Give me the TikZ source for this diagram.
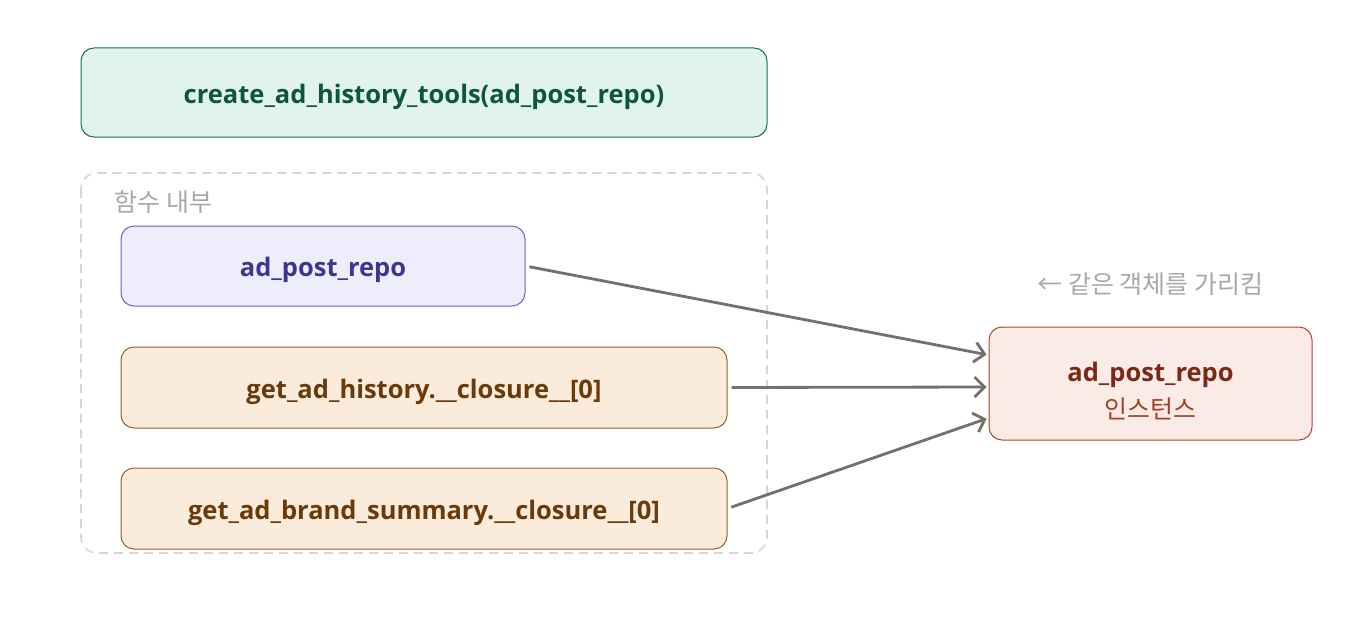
\documentclass[tikz,border=0pt]{standalone}
\usepackage{fontspec}
\setmainfont{Open Sans}
\newfontfamily\kr{Noto Sans CJK KR}
\usetikzlibrary{arrows.meta}
\definecolor{topfill}{HTML}{E0F3EC}
\definecolor{topdraw}{HTML}{1B6E4E}
\definecolor{toptext}{HTML}{0D5540}
\definecolor{purfill}{HTML}{EDEDFC}
\definecolor{purdraw}{HTML}{6A60CC}
\definecolor{purtext}{HTML}{3D3591}
\definecolor{orfill}{HTML}{FAEBDA}
\definecolor{ordraw}{HTML}{9A6225}
\definecolor{ortext}{HTML}{6B3A0A}
\definecolor{rfill}{HTML}{FAEBE6}
\definecolor{rdraw}{HTML}{A9462E}
\definecolor{rtext}{HTML}{7A2A14}
\definecolor{rtext2}{HTML}{A24026}
\definecolor{arr}{HTML}{727269}
\definecolor{dashc}{HTML}{D6D6D6}
\definecolor{lblgray}{HTML}{A8A8A8}
\begin{document}
\begin{tikzpicture}[x=1pt,y=-1pt,
  box/.style={draw, rounded corners=13pt, line width=1pt, inner sep=0pt, text height=21pt, text depth=0pt, font=\bfseries\fontsize{25.5}{30}\selectfont},
  conn/.style={draw=arr, line width=2.8pt, -{Straight Barb[length=10pt,width=20pt,line width=2.8pt]}}]
\useasboundingbox (0,0) rectangle (1372,626);
\draw[dashc, dashed, dash pattern=on 9pt off 6pt, line width=1.6pt, rounded corners=16pt] (81,173) rectangle (767,553);
\node[box, fill=topfill, draw=topdraw, text=toptext, minimum width=686pt, minimum height=89pt] (top) at (424,92.5) {create\_ad\_history\_tools(ad\_post\_repo)};
\node[anchor=west, text=lblgray, font=\kr\fontsize{25}{28}\selectfont] (lbl) at (111,202) {함수 내부};
\node[box, fill=purfill, draw=purdraw, text=purtext, minimum width=404pt, minimum height=80pt] (apr) at (323,266) {ad\_post\_repo};
\node[box, fill=orfill, draw=ordraw, text=ortext, minimum width=606pt, minimum height=81pt] (gah) at (424,387.5) {get\_ad\_history.\_\_closure\_\_[0]};
\node[box, fill=orfill, draw=ordraw, text=ortext, minimum width=606pt, minimum height=81pt] (gabs) at (424,508.5) {get\_ad\_brand\_summary.\_\_closure\_\_[0]};
\node[box, fill=rfill, draw=rdraw, minimum width=323pt, minimum height=113pt] (inst) at (1150.5,383.5) {};
\node[text=rtext, text height=21pt, text depth=0pt, font=\bfseries\fontsize{25.5}{30}\selectfont] (insta) at (1150.5,371) {ad\_post\_repo};
\node[text=rtext2, font=\kr\fontsize{25}{28}\selectfont] (instb) at (1150.5,409) {인스턴스};
\node[text=lblgray, font=\kr\fontsize{25}{28}\selectfont] (same) at (1150.5,284) {← 같은 객체를 가리킴};
\draw[conn, shorten <=4pt, shorten >=2pt] (apr.east) -- ([yshift=28.5pt]inst.west);
\draw[conn, shorten <=4pt, shorten >=2pt] (gah.east) -- ([yshift=-3.5pt]inst.west);
\draw[conn, shorten <=4pt, shorten >=2pt] (gabs.east) -- ([yshift=-34.5pt]inst.west);
\end{tikzpicture}
\end{document}
